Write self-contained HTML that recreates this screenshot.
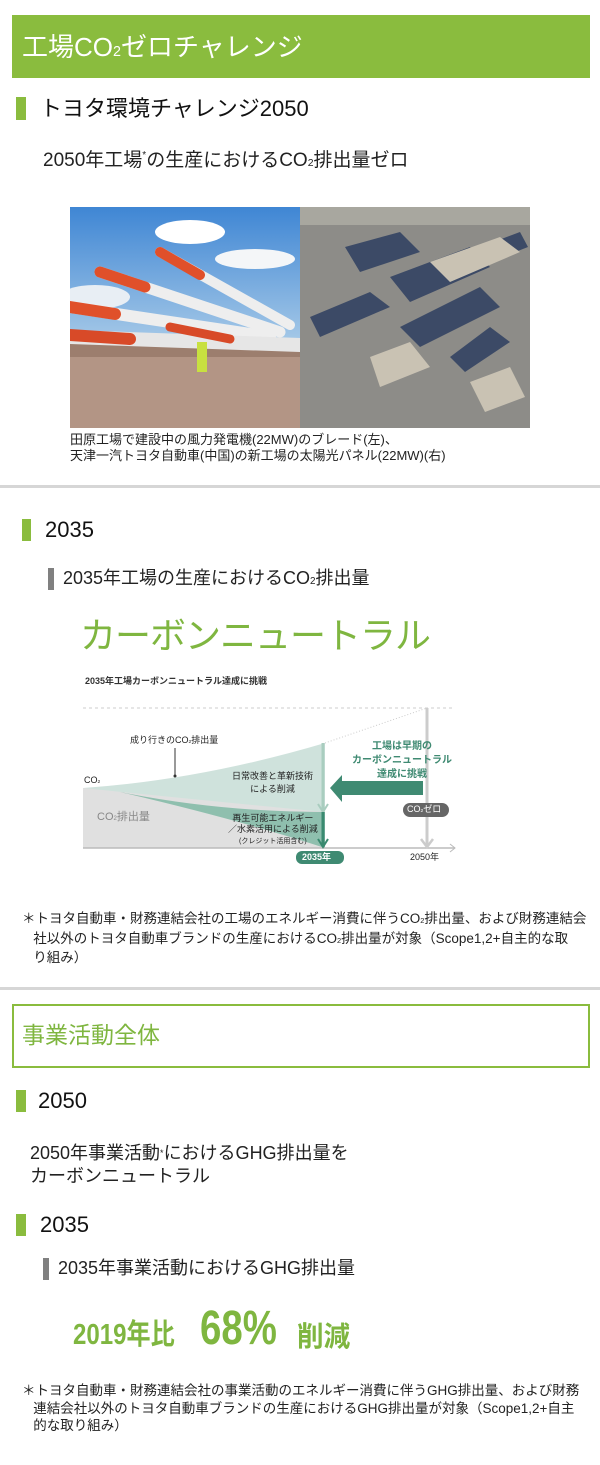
<!DOCTYPE html>
<html><head><meta charset="utf-8"><style>
*{margin:0;padding:0;box-sizing:border-box}
body{width:600px;height:1465px;background:#fff;position:relative;overflow:hidden;font-family:"Liberation Sans","Noto Sans CJK JP",sans-serif;color:#222}
.a{position:absolute;white-space:nowrap;line-height:1}
.mk{position:absolute;background:#8abc3e}
.gm{position:absolute;background:#808080}
sub{font-size:0.55em;vertical-align:baseline}
</style></head><body>
<div class="a" style="left:12px;top:15px;width:578px;height:63px;background:#8abc3e"></div>
<div class="a" style="left:22px;top:34px;font-size:26px;color:#fff">工場CO<sub>2</sub>ゼロチャレンジ</div>

<div class="mk" style="left:16px;top:97px;width:10px;height:23px"></div>
<div class="a" style="left:40px;top:98px;font-size:22px;color:#111">トヨタ環境チャレンジ2050</div>
<div class="a" style="left:43px;top:151px;font-size:19px">2050年工場<span style="font-size:10px;vertical-align:top">*</span>の生産におけるCO<sub>2</sub>排出量ゼロ</div>

<svg class="a" style="left:70px;top:207px" width="460" height="221" viewBox="0 0 460 221">
<defs><linearGradient id="sky" x1="0" y1="0" x2="0" y2="1"><stop offset="0" stop-color="#3f86d4"/><stop offset="1" stop-color="#a9cbe8"/></linearGradient></defs>
<rect width="230" height="140" fill="url(#sky)"/>
<ellipse cx="120" cy="25" rx="35" ry="12" fill="#fff"/><ellipse cx="185" cy="52" rx="40" ry="10" fill="#f4f6f8"/><ellipse cx="25" cy="90" rx="35" ry="12" fill="#e8eef4"/>
<rect y="135" width="230" height="86" fill="#9c7e6e"/>
<rect y="150" width="230" height="71" fill="#b39585"/>
<g stroke-linecap="round">
<line x1="0" y1="100" x2="200" y2="130" stroke="#eee" stroke-width="12"/>
<line x1="30" y1="65" x2="210" y2="125" stroke="#eee" stroke-width="11"/>
<line x1="90" y1="45" x2="220" y2="118" stroke="#eee" stroke-width="10"/>
<line x1="0" y1="130" x2="230" y2="138" stroke="#e6e6e6" stroke-width="14"/>
<line x1="0" y1="100" x2="45" y2="107" stroke="#e0502a" stroke-width="12"/>
<line x1="30" y1="65" x2="75" y2="80" stroke="#e0502a" stroke-width="11"/>
<line x1="90" y1="45" x2="130" y2="68" stroke="#e0502a" stroke-width="10"/>
<line x1="0" y1="128" x2="60" y2="132" stroke="#d84a28" stroke-width="12"/>
<line x1="100" y1="120" x2="160" y2="132" stroke="#d84a28" stroke-width="9"/>
</g>
<rect x="127" y="135" width="10" height="30" fill="#c8e040"/>
<rect x="230" width="230" height="221" fill="#8d8c88"/>
<g fill="#3c4a66">
<polygon points="275,40 330,25 350,45 290,65"/><polygon points="320,70 400,40 420,60 340,95"/><polygon points="240,110 300,85 320,100 250,130"/>
<polygon points="330,120 410,80 430,100 350,140"/><polygon points="380,150 420,120 440,135 395,165"/><polygon points="410,40 450,25 458,40 420,55"/>
</g>
<g fill="#c9c2b3"><polygon points="360,55 430,30 450,45 380,75"/><polygon points="300,150 340,135 360,160 310,180"/><polygon points="400,175 440,160 455,190 415,205"/></g>
<rect x="230" y="0" width="230" height="18" fill="#a8a79f"/>
</svg>
<div class="a" style="left:70px;top:433px;font-size:13px">田原工場で建設中の風力発電機(22MW)のブレード(左)、</div>
<div class="a" style="left:70px;top:449px;font-size:13px">天津一汽トヨタ自動車(中国)の新工場の太陽光パネル(22MW)(右)</div>

<div class="a" style="left:0;top:485px;width:600px;height:3px;background:#d6d6d6"></div>

<div class="mk" style="left:22px;top:519px;width:9px;height:22px"></div>
<div class="a" style="left:45px;top:519px;font-size:22px;color:#111">2035</div>
<div class="gm" style="left:48px;top:568px;width:6px;height:22px"></div>
<div class="a" style="left:63px;top:569px;font-size:18px">2035年工場の生産におけるCO<sub>2</sub>排出量</div>
<div class="a" style="left:80px;top:618px;font-size:36px;color:#7fb640;letter-spacing:-1px">カーボンニュートラル</div>
<div class="a" style="left:85px;top:677px;font-size:9px;font-weight:bold;color:#333">2035年工場カーボンニュートラル達成に挑戦</div>

<svg class="a" style="left:0;top:700px" width="600" height="170" viewBox="0 700 600 170">
<line x1="83" y1="708" x2="455" y2="708" stroke="#ccc" stroke-dasharray="3,3"/>
<line x1="325" y1="743" x2="427" y2="708" stroke="#ccc" stroke-dasharray="1,2"/>
<polygon points="83,788 325,788 325,848 83,848" fill="#e0e0e0"/>
<path d="M83,788 Q200,780 325,743 L325,812 Q200,800 83,788Z" fill="#cfe2dc"/>
<path d="M120,792 Q220,812 325,812 L325,848 Q240,820 120,792Z" fill="#8fbfae"/>
<line x1="83" y1="848" x2="455" y2="848" stroke="#bbb" stroke-width="1.5"/>
<polyline points="450,844 455,848 450,852" fill="none" stroke="#bbb"/>
<line x1="323" y1="743" x2="323" y2="810" stroke="#a9cdbf" stroke-width="3"/>
<polyline points="318,804 323,812 328,804" fill="none" stroke="#a9cdbf" stroke-width="2"/>
<line x1="323" y1="812" x2="323" y2="845" stroke="#3a8a70" stroke-width="3"/>
<polyline points="318,839 323,847 328,839" fill="none" stroke="#3a8a70" stroke-width="2"/>
<line x1="427" y1="708" x2="427" y2="845" stroke="#ccc" stroke-width="3"/>
<polyline points="421,839 427,847 433,839" fill="none" stroke="#ccc" stroke-width="2.5"/>
<polygon points="423,781 342,781 342,775 330,788 342,802 342,795 423,795" fill="#3f8a72"/>
<line x1="175" y1="748" x2="175" y2="776" stroke="#333"/>
<circle cx="175" cy="776" r="1.5" fill="#333"/>
<rect x="403" y="803" width="46" height="14" rx="7" fill="#666"/>
<rect x="296" y="851" width="48" height="13" rx="6" fill="#3f8a72"/>
</svg>
<div class="a" style="left:130px;top:736px;font-size:9px">成り行きのCO<sub>2</sub>排出量</div>
<div class="a" style="left:84px;top:776px;font-size:9px">CO<sub>2</sub></div>
<div class="a" style="left:232px;top:770px;font-size:9px;text-align:center;line-height:13px">日常改善と革新技術<br>による削減</div>
<div class="a" style="left:97px;top:812px;font-size:11px;color:#888">CO<sub>2</sub>排出量</div>
<div class="a" style="left:228px;top:813px;font-size:9px;text-align:center;line-height:11px">再生可能エネルギー<br>／水素活用による削減<br><span style="font-size:7px">(クレジット活用含む)</span></div>
<div class="a" style="left:352px;top:740px;font-size:10px;font-weight:bold;color:#3f8a72;text-align:center;line-height:14px">工場は早期の<br>カーボンニュートラル<br>達成に挑戦</div>
<div class="a" style="left:407px;top:805px;font-size:9px;color:#fff">CO<sub>2</sub>ゼロ</div>
<div class="a" style="left:302px;top:853px;font-size:9px;color:#fff;font-weight:bold">2035年</div>
<div class="a" style="left:410px;top:853px;font-size:9px">2050年</div>

<div class="a" style="left:22px;top:910px;font-size:13.5px;line-height:17.5px">＊トヨタ自動車・財務連結会社の工場のエネルギー消費に伴うCO<sub>2</sub>排出量、および財務連結会<br>&nbsp;&nbsp;&nbsp;社以外のトヨタ自動車ブランドの生産におけるCO<sub>2</sub>排出量が対象（Scope1,2+自主的な取<br>&nbsp;&nbsp;&nbsp;り組み）</div>

<div class="a" style="left:0;top:987px;width:600px;height:3px;background:#d6d6d6"></div>
<div class="a" style="left:12px;top:1004px;width:578px;height:64px;border:2px solid #8abc3e"></div>
<div class="a" style="left:22px;top:1024px;font-size:23px;color:#7fb640">事業活動全体</div>

<div class="mk" style="left:16px;top:1090px;width:10px;height:22px"></div>
<div class="a" style="left:38px;top:1090px;font-size:22px;color:#111">2050</div>
<div class="a" style="left:30px;top:1142px;font-size:18px;line-height:23px">2050年事業活動<span style="font-size:9px;vertical-align:top">*</span>におけるGHG排出量を<br>カーボンニュートラル</div>

<div class="mk" style="left:16px;top:1214px;width:10px;height:22px"></div>
<div class="a" style="left:40px;top:1214px;font-size:22px;color:#111">2035</div>
<div class="gm" style="left:43px;top:1258px;width:6px;height:22px"></div>
<div class="a" style="left:58px;top:1259px;font-size:18px">2035年事業活動におけるGHG排出量</div>

<div class="a" style="left:73px;top:1321px;font-size:29px;font-weight:bold;color:#7fb640;transform:scaleX(0.83);transform-origin:left">2019年比</div>
<div class="a" style="left:200px;top:1305px;font-size:48px;font-weight:bold;color:#7fb640;transform:scaleX(0.8);transform-origin:left">68%</div>
<div class="a" style="left:297px;top:1323px;font-size:28px;font-weight:bold;color:#7fb640;transform:scaleX(0.95);transform-origin:left">削減</div>

<div class="a" style="left:22px;top:1382px;font-size:13.5px;line-height:17.5px">＊トヨタ自動車・財務連結会社の事業活動のエネルギー消費に伴うGHG排出量、および財務<br>&nbsp;&nbsp;&nbsp;連結会社以外のトヨタ自動車ブランドの生産におけるGHG排出量が対象（Scope1,2+自主<br>&nbsp;&nbsp;&nbsp;的な取り組み）</div>
</body></html>
